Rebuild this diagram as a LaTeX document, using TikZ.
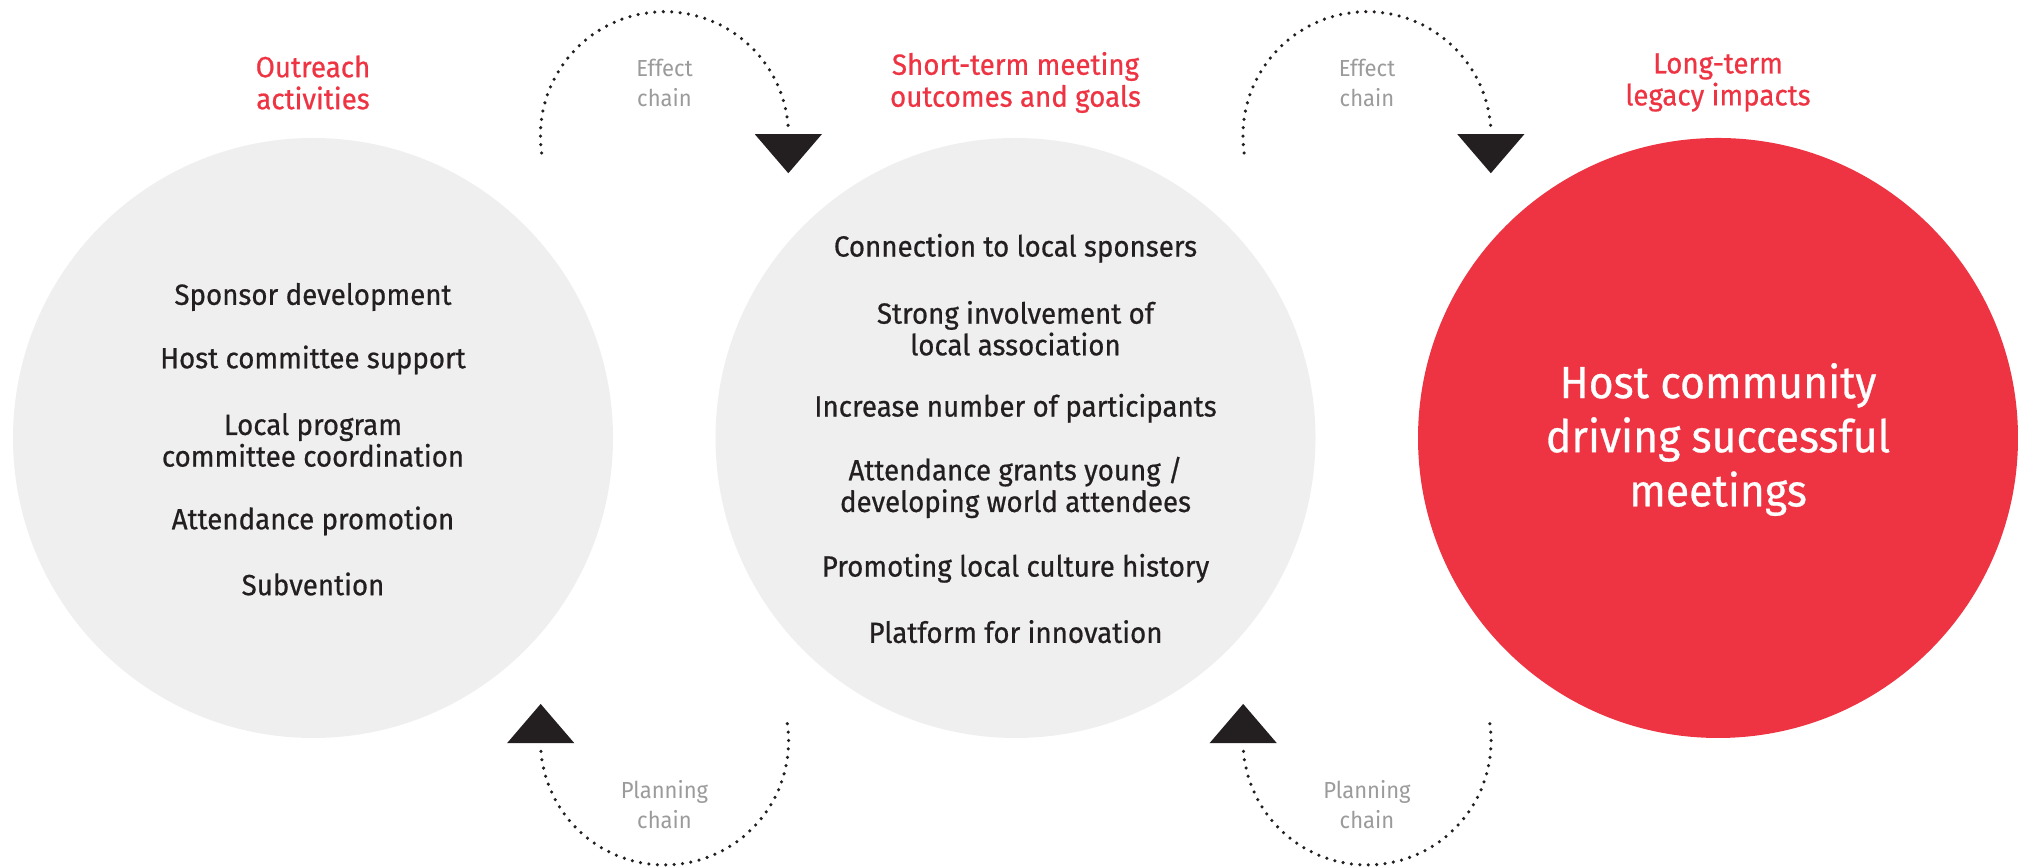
\documentclass[tikz,border=0pt]{standalone}
\usepackage{fontspec}
\setmainfont{Fira Sans}[FakeStretch=0.95]
\newfontfamily\medfont{Fira Sans}[FakeStretch=0.95, FakeBold=0.6]
\usepackage{tikz}
\usetikzlibrary{positioning}

\definecolor{hostred}{HTML}{EE3342}
\definecolor{circgray}{HTML}{EEEFEE}
\definecolor{inkgray}{HTML}{231F20}
\definecolor{labelgray}{HTML}{9B9B9B}

\begin{document}
\begin{tikzpicture}[
    bubble/.style={circle, inner sep=0pt, minimum size=6cm},
    item/.style={align=center, text=inkgray, font=\medfont\fontsize{8.3}{9}\selectfont},
    heading/.style={align=center, text=hostred, font=\medfont\fontsize{8.3}{9.1}\selectfont},
    chainlabel/.style={align=center, text=labelgray, font=\fontsize{6.6}{8.5}\selectfont},
    dots/.style={inkgray, line width=1pt, line cap=round, dash pattern=on 0pt off 2.4pt},
    head/.style={fill=inkgray}]
   \useasboundingbox (0,0) rectangle (20.18,8.67);

   \node[bubble,fill=circgray] (c0) at (3.13,4.29) {};
   \node[bubble,fill=circgray] (c1) at (10.155,4.29) {};
   \node[bubble,fill=hostred] (c2) at (17.18,4.29) {};

   %headings
   \node[heading] (t0) at (3.13,7.845) {Outreach\\activities};
   \node[heading] (t1) at (10.155,7.845) {Short-term meeting\\outcomes and goals};
   \node[heading] (t2) at (17.18,7.845) {Long-term\\legacy impacts};

   %outreach activities
   \node[item] (a1) at (3.13,5.70) {Sponsor development};
   \node[item] (a2) at (3.13,5.07) {Host committee support};
   \node[item] (a3) at (3.13,4.27) {Local program\\committee coordination};
   \node[item] (a4) at (3.13,3.46) {Attendance promotion};
   \node[item] (a5) at (3.13,2.83) {Subvention};

   %short-term outcomes
   \node[item] (b1) at (10.155,6.187) {Connection to local sponsers};
   \node[item] (b2) at (10.155,5.387) {Strong involvement of\\local association};
   \node[item] (b3) at (10.155,4.587) {Increase number of participants};
   \node[item] (b4) at (10.155,3.795) {Attendance grants young /\\developing world attendees};
   \node[item] (b5) at (10.155,2.987) {Promoting local culture history};
   \node[item] (b6) at (10.155,2.353) {Platform for innovation};

   %long-term legacy
   \node[align=center, text=white, font=\medfont\fontsize{12.8}{15.4}\selectfont] (r0) at (17.18,4.275)
        {Host community\\driving successful\\meetings};

   %effect chain
   \coordinate (e0s) at (5.417,7.140);
   \draw[dots] (e0s) arc[start angle=188, end angle=3, radius=1.24] coordinate (e0e);
   \fill[head] (e0e) ++(-0.335,-0.05) -- ++(0.67,0) -- ++(-0.335,-0.39) -- cycle;
   \node[chainlabel] (l0) at (6.645,7.84) {Effect\\chain};

   \coordinate (e1s) at (12.442,7.140);
   \draw[dots] (e1s) arc[start angle=188, end angle=3, radius=1.24] coordinate (e1e);
   \fill[head] (e1e) ++(-0.335,-0.05) -- ++(0.67,0) -- ++(-0.335,-0.39) -- cycle;
   \node[chainlabel] (l1) at (13.67,7.84) {Effect\\chain};

   %planning chain
   \coordinate (p0s) at (7.873,1.433);
   \draw[dots] (p0s) arc[start angle=8, end angle=-177, radius=1.24] coordinate (p0e);
   \fill[head] (p0e) ++(-0.337,0.042) -- ++(0.674,0) -- ++(-0.337,0.393) -- cycle;
   \node[chainlabel] (l2) at (6.645,0.62) {Planning\\chain};

   \coordinate (p1s) at (14.898,1.433);
   \draw[dots] (p1s) arc[start angle=8, end angle=-177, radius=1.24] coordinate (p1e);
   \fill[head] (p1e) ++(-0.337,0.042) -- ++(0.674,0) -- ++(-0.337,0.393) -- cycle;
   \node[chainlabel] (l3) at (13.67,0.62) {Planning\\chain};
\end{tikzpicture}
\end{document}
